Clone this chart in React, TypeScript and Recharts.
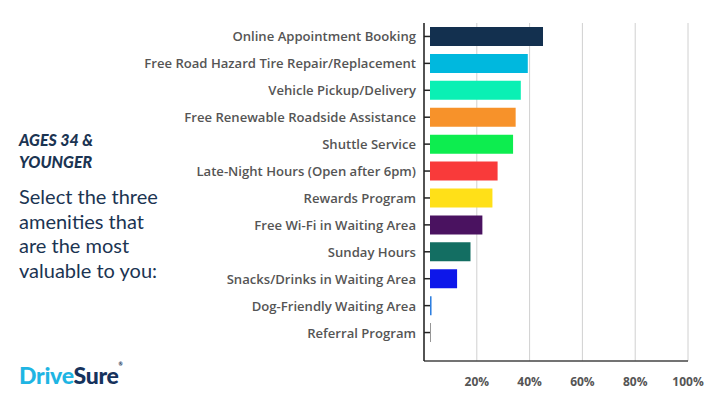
import React from 'react';
import { BarChart, Bar, XAxis, YAxis, CartesianGrid, Cell } from 'recharts';

const amenities = [
  'Online Appointment Booking',
  'Free Road Hazard Tire Repair/Replacement',
  'Vehicle Pickup/Delivery',
  'Free Renewable Roadside Assistance',
  'Shuttle Service',
  'Late-Night Hours (Open after 6pm)',
  'Rewards Program',
  'Free Wi-Fi in Waiting Area',
  'Sunday Hours',
  'Snacks/Drinks in Waiting Area',
  'Dog-Friendly Waiting Area',
  'Referral Program',
];

const shares = [43.8, 37.9, 35.2, 33.2, 32.2, 26.2, 24.2, 20.3, 15.7, 10.5, 0.6, 0.3];

const barColors = [
  '#13304f', '#00b8de', '#0af0b4', '#f7922a', '#0ded4f', '#f93a3a',
  '#ffe018', '#4a1260', '#136e62', '#0d17ea', '#2e7fe0', '#777777',
];

const xTicks = [20, 40, 60, 80, 100];

const data = amenities.map((name, i) => ({ name, share: shares[i] }));

const FONT = 'Lato, "Open Sans", sans-serif';
const LABEL_FONT = '"Open Sans", Lato, sans-serif';

// label on the left, tick mark pointing into the plot
const CategoryTick = ({ x, y, payload }: any) => (
  <g>
    <line x1={x + 8} x2={x + 14} y1={y} y2={y} stroke="#222" strokeWidth={1.5} />
    <text
      x={x}
      y={y}
      textAnchor="end"
      dominantBaseline="central"
      fill="#555"
      fontSize={13.1}
      fontWeight={600}
      fontFamily={LABEL_FONT}
    >
      {payload.value}
    </text>
  </g>
);

export default function App() {
  return (
    <div style={{ position: 'relative', width: 720, height: 405, background: '#fff', fontFamily: FONT }}>
      <style>{'body{margin:0}'}</style>

      <div style={{ position: 'absolute', left: 19, top: 129, color: '#1b3452' }}>
        <div style={{ fontSize: 16, fontWeight: 900, fontStyle: 'italic', lineHeight: '22px' }}>
          AGES 34 &amp;
          <br />
          YOUNGER
        </div>
        <div style={{ fontSize: 20, lineHeight: '24.5px', marginTop: 11 }}>
          Select the three
          <br />
          amenities that
          <br />
          are the most
          <br />
          valuable to you:
        </div>
      </div>

      <div
        style={{
          position: 'absolute',
          left: 19,
          top: 361,
          fontSize: 23,
          fontWeight: 900,
          letterSpacing: -0.3,
        }}
      >
        <span style={{ color: '#1fb5e3' }}>Drive</span>
        <span style={{ color: '#16325c' }}>Sure</span>
        <span style={{ color: '#16325c', fontSize: 5, verticalAlign: 'top' }}>®</span>
      </div>

      <BarChart
        width={720}
        height={405}
        data={data}
        layout="vertical"
        margin={{ top: 23, right: 32, left: 0, bottom: 0 }}
      >
        <CartesianGrid horizontal={false} stroke="#d0d0d0" />
        <XAxis
          type="number"
          domain={[0, 100]}
          allowDataOverflow
          ticks={xTicks}
          tickFormatter={(v) => `${v}%`}
          height={44}
          tickLine={false}
          tickSize={0}
          tickMargin={16}
          axisLine={{ stroke: '#444', strokeWidth: 1.5 }}
          tick={{ fill: '#555', fontSize: 12, fontWeight: 700, fontFamily: LABEL_FONT }}
        />
        <XAxis xAxisId="bars" type="number" domain={[0, 100]} allowDataOverflow padding={{ left: 6, right: 0 }} hide />
        <YAxis
          type="category"
          dataKey="name"
          width={424}
          padding={{ top: 0, bottom: 15 }}
          tickLine={false}
          tickSize={0}
          tickMargin={8}
          axisLine={{ stroke: '#222', strokeWidth: 1.5 }}
          tick={<CategoryTick />}
          interval={0}
        />
        <Bar dataKey="share" xAxisId="bars" barSize={19} isAnimationActive={false}>
          {data.map((d, i) => (
            <Cell key={d.name} fill={barColors[i]} />
          ))}
        </Bar>
      </BarChart>
    </div>
  );
}
